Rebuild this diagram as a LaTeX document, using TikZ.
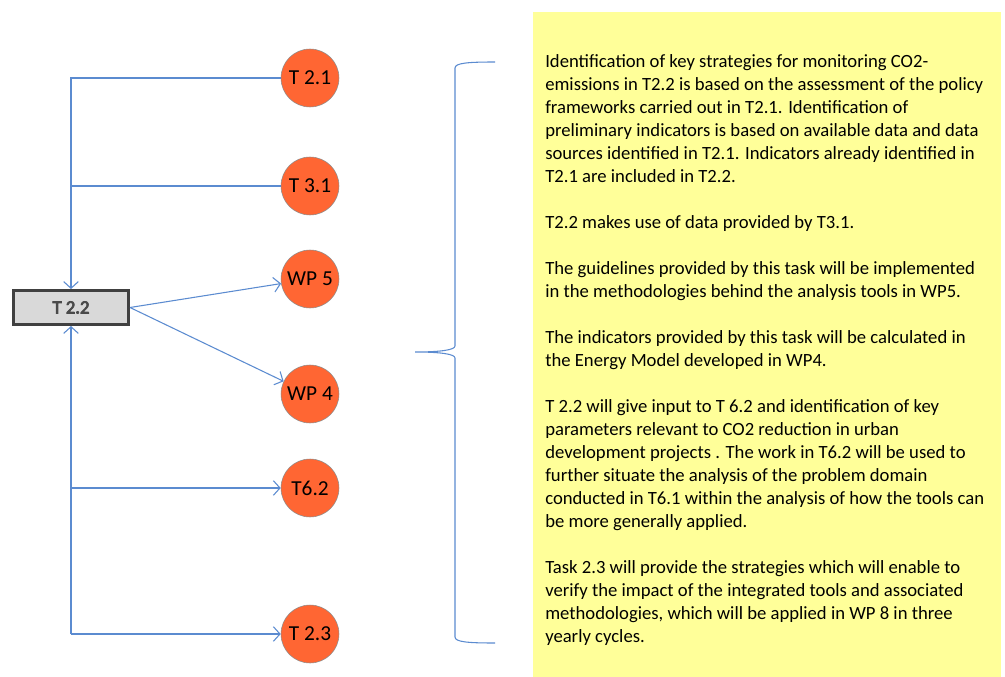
\documentclass[tikz,border=0pt]{standalone}
\usepackage{fontspec}
\setmainfont{Carlito}
\newfontfamily\boxfont{Carlito}[FakeBold=4]
\usetikzlibrary{arrows.meta,positioning}
\definecolor{linkblue}{HTML}{5B8BD0}
\definecolor{taskred}{HTML}{FF6633}
\definecolor{notefill}{HTML}{FFFF99}
\definecolor{boxgrey}{HTML}{D9D9D9}
\definecolor{boxline}{HTML}{404040}
\definecolor{boxtext}{HTML}{4A4A4A}
\tikzset{
  task/.style={circle,draw=gray!90,fill=taskred,minimum size=43.5pt,inner sep=0pt,
    font=\fontsize{16}{18}\selectfont},
  link/.style={draw=linkblue,line width=0.8pt,-{Straight Barb[length=5pt,width=11pt]}},
  plain/.style={draw=linkblue,line width=0.8pt}
}
\begin{document}
\begin{tikzpicture}[x=0.75pt,y=-0.75pt]
\useasboundingbox (0,0) rectangle (1005,677);
% note area
\fill[notefill] (533,12) rectangle (1001,677);
\node (t22) [draw=boxline,line width=2.25pt,fill=boxgrey,minimum width=86.25pt,
  minimum height=25.5pt,font=\boxfont\fontsize{14}{16}\selectfont,text=boxtext] at (71,307.5) {T 2.2};
%
\node (t21) [task] at (310,78) {T 2.1};
\node (t31) [task] at (310,186) {T 3.1};
\node (wp5) [task] at (310,279) {WP 5};
\node (wp4) [task] at (310,394) {WP 4};
\node (t62) [task] at (310,488) {T6.2};
\node (t23) [task] at (310,634) {T 2.3};
%
\draw[link] (t21) -| (t22);
\draw[plain] (t31) -- (t31 -| t22);
\draw[link] (t22 |- t23) -- (t22);
\draw[link] (t22 |- t23) -- (t23);
\draw[link] (t22 |- t62) -- (t62);
\draw[link] (t22.east) -- (wp5);
\draw[link] (t22.east) -- (wp4);
% brace
\draw[plain] (495,62) .. controls (468,62) and (455,63) .. (455,68) -- (455,346)
  .. controls (455,350) and (440,352) .. (415,352)
  .. controls (440,352) and (455,354) .. (455,358) -- (455,637)
  .. controls (455,642) and (468,643) .. (495,643);
%
\node (notes) [anchor=north west,align=left,inner sep=0pt,
  font=\fontsize{14}{17.25}\selectfont] at (545,54) {%
Identification of key strategies for monitoring CO2-\\
emissions in T2.2 is based on the assessment of the policy\\
frameworks carried out in T2.1. Identification of\\
preliminary indicators is based on available data and data\\
sources identified in T2.1. Indicators already identified in\\
T2.1 are included in T2.2.\\[17.25pt]
T2.2 makes use of data provided by T3.1.\\[17.25pt]
The guidelines provided by this task will be implemented\\
in the methodologies behind the analysis tools in WP5.\\[17.25pt]
The indicators provided by this task will be calculated in\\
the Energy Model developed in WP4.\\[17.25pt]
T 2.2 will give input to T 6.2 and identification of key\\
parameters relevant to CO2 reduction in urban\\
development projects . The work in T6.2 will be used to\\
further situate the analysis of the problem domain\\
conducted in T6.1 within the analysis of how the tools can\\
be more generally applied.\\[17.25pt]
Task 2.3 will provide the strategies which will enable to\\
verify the impact of the integrated tools and associated\\
methodologies, which will be applied in WP 8 in three\\
yearly cycles.};
\end{tikzpicture}
\end{document}
